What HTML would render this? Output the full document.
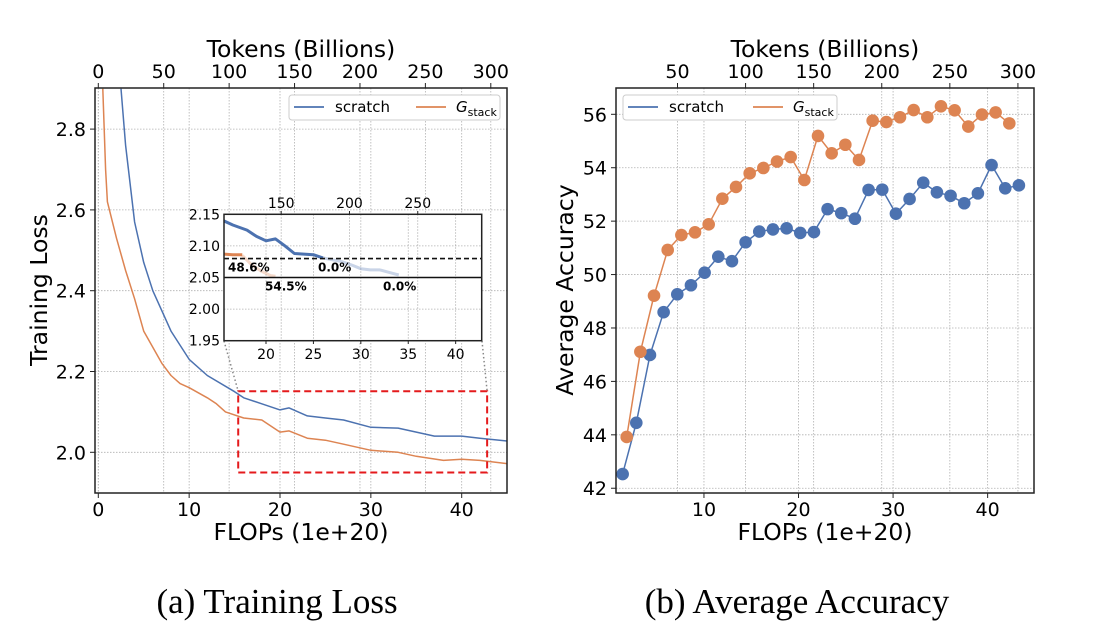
<!DOCTYPE html>
<html><head><meta charset="utf-8"><style>
html,body{margin:0;padding:0;background:#fff;}
svg{display:block;font-family:"DejaVu Sans","Liberation Sans",sans-serif;}
</style></head><body>
<svg id="fig" width="1106" height="638" viewBox="0 0 1106 638" xmlns="http://www.w3.org/2000/svg">
<text x="277" y="613" text-anchor="middle" font-family="Liberation Serif, serif" font-size="35">(a) Training Loss</text>
<text x="797" y="613" text-anchor="middle" font-family="Liberation Serif, serif" font-size="35">(b) Average Accuracy</text>
</svg>
<script>
// ---- Data ----
const lossBlueX=[2.5,3,4,5,6,8,10,12,15,16,18,20,21,23,25,27,30,33,35,37,40,42,45];
const lossBlueY=[2.9,2.76,2.57,2.47,2.4,2.3,2.23,2.19,2.15,2.135,2.12,2.105,2.11,2.09,2.085,2.08,2.062,2.06,2.05,2.04,2.04,2.035,2.028];
const lossOrangeX=[0.5,0.8,1,2,3,4,5,6,7,8,9,10,12,13,14,16,18,20,21,23,25,27,30,33,35,38,40,42,45];
const lossOrangeY=[2.9,2.7,2.62,2.53,2.45,2.38,2.3,2.26,2.22,2.19,2.17,2.16,2.135,2.12,2.1,2.085,2.08,2.05,2.053,2.035,2.03,2.02,2.005,2.0,1.99,1.98,1.983,1.98,1.972];
const accBlue=[42.53,44.45,46.99,48.59,49.26,49.60,50.07,50.67,50.50,51.21,51.61,51.69,51.73,51.56,51.59,52.45,52.30,52.09,53.17,53.18,52.28,52.83,53.44,53.08,52.95,52.67,53.04,54.10,53.23,53.34];
const accOrange=[43.92,47.11,49.21,50.92,51.48,51.58,51.88,52.84,53.28,53.79,53.99,54.23,54.40,53.54,55.19,54.54,54.86,54.29,55.76,55.71,55.89,56.16,55.89,56.30,56.15,55.54,55.99,56.07,55.66];
const lossYTicks=[2.0,2.2,2.4,2.6,2.8];
const flopTicksL=[0,10,20,30,40];
const flopTicksR=[10,20,30,40];
const tokTicksL=[0,50,100,150,200,250,300];
const tokTicksR=[50,100,150,200,250,300];
const accYTicks=[42,44,46,48,50,52,54,56];
const insetYTicks=[1.95,2.00,2.05,2.10,2.15];
const insetXTicks=[20,25,30,35,40];
const insetTokTicks=[150,200,250];

const NS="http://www.w3.org/2000/svg";
const svg=document.getElementById('fig');
const BLUE="#4c72b0", ORANGE="#dd8452";
function el(tag,attrs,parent){const e=document.createElementNS(NS,tag);for(const k in attrs)e.setAttribute(k,attrs[k]);(parent||svg).appendChild(e);return e;}
function txt(s,attrs,parent){const e=el('text',attrs,parent);e.textContent=s;return e;}
const TOK=6.944;
const TF=19, AF=23.5;

const lx=v=>98.3+v*9.085, ly=v=>452.3-(v-2.0)*404;
const rx=v=>609.4+v*9.456, ry=v=>114.3+(56-v)*26.71;
const ix=v=>266+(v-20)*9.483, iy=v=>214.3+(2.15-v)*632;

function grid(x0,y0,x1,y1,xs,ys,name){
  const g=el('g',{});
  xs.forEach(x=>el('line',{x1:x,x2:x,y1:y0,y2:y1,stroke:'#b0b0b0','stroke-width':0.8,'stroke-dasharray':'1.5,1.5'},g));
  ys.forEach(y=>el('line',{x1:x0,x2:x1,y1:y,y2:y,stroke:'#b0b0b0','stroke-width':0.8,'stroke-dasharray':'1.5,1.5'},g));
}
function frame(x0,y0,x1,y1,name){const r=el('rect',{x:x0,y:y0,width:x1-x0,height:y1-y0,fill:'none',stroke:'#222','stroke-width':1.5});}
function path(xs,ys,fx,fy,color,w,clip,name,op){
  const d=xs.map((x,i)=>(i?'L':'M')+fx(x).toFixed(1)+','+fy(ys[i]).toFixed(1)).join('');
  const p=el('path',{d:d,fill:'none',stroke:color,'stroke-width':w,'clip-path':clip?'url(#'+clip+')':'', 'stroke-linejoin':'round',opacity:op||1});
  return p;
}

// ===== LEFT =====
const cl=el('clipPath',{id:'clipL'});el('rect',{x:95,y:88,width:412,height:405},cl);
grid(95,88,507,493,flopTicksL.map(lx).concat(tokTicksL.map(t=>lx(t/TOK))),lossYTicks.map(ly),'loss-grid');
path(lossBlueX,lossBlueY,lx,ly,BLUE,1.5,'clipL','loss-line-scratch');
path(lossOrangeX,lossOrangeY,lx,ly,ORANGE,1.5,'clipL','loss-line-gstack');
frame(95,88,507,493,'loss-plot-frame');
lossYTicks.forEach(v=>{el('line',{x1:90,x2:95,y1:ly(v),y2:ly(v),stroke:'#222'});const t=txt(v.toFixed(1),{x:86,y:ly(v)+7,'text-anchor':'end','font-size':TF});});
flopTicksL.forEach(v=>{el('line',{x1:lx(v),x2:lx(v),y1:493,y2:498,stroke:'#222'});const t=txt(v,{x:lx(v),y:516,'text-anchor':'middle','font-size':TF});});
tokTicksL.forEach(v=>{const x=lx(v/TOK);el('line',{x1:x,x2:x,y1:83,y2:88,stroke:'#222'});const t=txt(v,{x:x,y:78,'text-anchor':'middle','font-size':TF});});
let t;
t=txt('Tokens (Billions)',{x:301,y:57,'text-anchor':'middle','font-size':AF});
t=txt('FLOPs (1e+20)',{x:301,y:540,'text-anchor':'middle','font-size':AF});
t=txt('Training Loss',{x:0,y:0,'text-anchor':'middle','font-size':AF,transform:'translate(47,290) rotate(-90)'});
const zr=el('rect',{x:lx(15.4),y:ly(2.151),width:lx(42.8)-lx(15.4),height:ly(1.95)-ly(2.151),fill:'none',stroke:'#e41a1c','stroke-width':2,'stroke-dasharray':'7,4'});

el('line',{x1:224,y1:341,x2:lx(15.4),y2:ly(2.151),stroke:'#888','stroke-width':1.5,'stroke-dasharray':'1.5,2.5'});
el('line',{x1:482,y1:341,x2:lx(42.8),y2:ly(2.151),stroke:'#888','stroke-width':1.5,'stroke-dasharray':'1.5,2.5'});
const ins=el('rect',{x:224,y:214.3,width:257.7,height:126.4,fill:'#fff'});
const ci=el('clipPath',{id:'clipI'});el('rect',{x:224,y:214.3,width:257.7,height:126.4},ci);
grid(224,214.3,481.7,340.7,insetXTicks.map(ix).concat(insetTokTicks.map(v=>ix(v/TOK))),insetYTicks.map(iy),'inset-grid');
const inBX=[15.5,16.5,18,19,20,21,22,23,24,25,26], inBY=[2.14,2.133,2.125,2.115,2.108,2.111,2.1,2.088,2.087,2.086,2.081];
const inBfX=[26,27,28,29,30,31,32,33,34], inBfY=[2.081,2.078,2.075,2.07,2.064,2.062,2.062,2.058,2.054];
const inOX=[15.5,16.5,17.5], inOY=[2.087,2.086,2.086];
const inOfX=[17.5,18.5,19.5,20.5,21], inOfY=[2.085,2.07,2.06,2.053,2.052];
path(inBX,inBY,ix,iy,BLUE,3,'clipI','inset-line-scratch');
path(inBfX,inBfY,ix,iy,BLUE,3,'clipI','inset-line-scratch-faded',0.3);
path(inOX,inOY,ix,iy,ORANGE,3,'clipI','inset-line-gstack');
path(inOfX,inOfY,ix,iy,ORANGE,3,'clipI','inset-line-gstack-faded',0.3);
el('line',{x1:224,x2:481.7,y1:iy(2.08),y2:iy(2.08),stroke:'#111','stroke-width':1.6,'stroke-dasharray':'5,3'});
el('line',{x1:224,x2:481.7,y1:iy(2.05),y2:iy(2.05),stroke:'#111','stroke-width':1.6});
[['48.6%',228,iy(2.08)+13],['0.0%',318,iy(2.08)+13],['54.5%',265,iy(2.05)+13],['0.0%',383,iy(2.05)+13]].forEach(a=>{const e=txt(a[0],{x:a[1],y:a[2],'font-size':12,'font-weight':'bold'});});
frame(224,214.3,481.7,340.7,'inset-frame');
insetYTicks.map(v=>{const e=txt(v.toFixed(2),{x:220,y:iy(v)+5,'text-anchor':'end','font-size':14});});
insetXTicks.map(v=>{el('line',{x1:ix(v),x2:ix(v),y1:340.7,y2:344,stroke:'#222'});const e=txt(v,{x:ix(v),y:359,'text-anchor':'middle','font-size':14});});
insetTokTicks.map(v=>{const x=ix(v/TOK);el('line',{x1:x,x2:x,y1:211,y2:214.3,stroke:'#222'});const e=txt(v,{x:x,y:208,'text-anchor':'middle','font-size':14});});
function legend(x,y,w,name){
  const g=el('g',{});
  el('rect',{x:x,y:y,width:w,height:25,rx:3,fill:'#fff',stroke:'#ccc','stroke-width':1},g);
  el('line',{x1:x+5,x2:x+35,y1:y+12,y2:y+12,stroke:BLUE,'stroke-width':1.8},g);
  txt('scratch',{x:x+46,y:y+17,'font-size':15},g);
  const ox=x+w-84;
  el('line',{x1:ox,x2:ox+30,y1:y+12,y2:y+12,stroke:ORANGE,'stroke-width':1.8},g);
  const tt=txt('',{x:ox+40,y:y+17,'font-size':15},g);
  const a=document.createElementNS(NS,'tspan');a.setAttribute('font-style','italic');a.textContent='G';tt.appendChild(a);
  const b=document.createElementNS(NS,'tspan');b.setAttribute('font-size','11');b.setAttribute('dy','4');b.textContent='stack';tt.appendChild(b);
}
legend(289,95,211,'loss-legend');

// ===== RIGHT =====
const cr=el('clipPath',{id:'clipR'});el('rect',{x:616,y:88,width:418,height:405},cr);
grid(616,88,1034,493,flopTicksR.map(rx).concat(tokTicksR.map(v=>rx(v/TOK))),accYTicks.map(ry),'acc-grid');
const xb=accBlue.map((v,i)=>1.4+i*1.445), xo=accOrange.map((v,i)=>1.83+i*1.445);
path(xb,accBlue,rx,ry,BLUE,1.5,'clipR','acc-line-scratch');
path(xo,accOrange,rx,ry,ORANGE,1.5,'clipR','acc-line-gstack');
accBlue.forEach((v,i)=>{const c=el('circle',{cx:rx(xb[i]),cy:ry(v),r:6.3,fill:BLUE,'clip-path':'url(#clipR)'});});
accOrange.forEach((v,i)=>{const c=el('circle',{cx:rx(xo[i]),cy:ry(v),r:6.3,fill:ORANGE,'clip-path':'url(#clipR)'});});
frame(616,88,1034,493,'acc-plot-frame');
accYTicks.forEach(v=>{el('line',{x1:611,x2:616,y1:ry(v),y2:ry(v),stroke:'#222'});const e=txt(v,{x:607,y:ry(v)+7,'text-anchor':'end','font-size':TF});});
flopTicksR.forEach(v=>{el('line',{x1:rx(v),x2:rx(v),y1:493,y2:498,stroke:'#222'});const e=txt(v,{x:rx(v),y:516,'text-anchor':'middle','font-size':TF});});
tokTicksR.forEach(v=>{const x=rx(v/TOK);el('line',{x1:x,x2:x,y1:83,y2:88,stroke:'#222'});const e=txt(v,{x:x,y:78,'text-anchor':'middle','font-size':TF});});
t=txt('Tokens (Billions)',{x:825,y:57,'text-anchor':'middle','font-size':AF});
t=txt('FLOPs (1e+20)',{x:825,y:540,'text-anchor':'middle','font-size':AF});
t=txt('Average Accuracy',{x:0,y:0,'text-anchor':'middle','font-size':AF,transform:'translate(573,290) rotate(-90)'});
legend(623,95,214,'acc-legend');
</script>
</body></html>
